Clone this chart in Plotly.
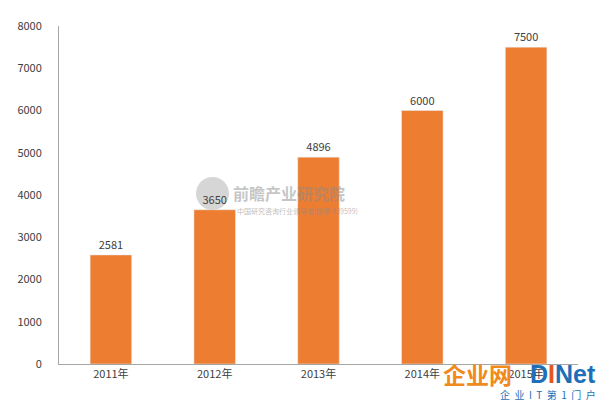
import plotly.graph_objects as go

categories = ["2011年", "2012年", "2013年", "2014年", "2015年"]
values = [2581, 3650, 4896, 6000, 7500]
y_ticks = [0, 1000, 2000, 3000, 4000, 5000, 6000, 7000, 8000]

bar_color = "#ED7D31"
text_color = "#404040"
font_family = "Noto Sans CJK SC, Open Sans, sans-serif"

W, H = 600, 401
L, R, T, B = 59, 22, 26, 37
PW, PH = W - L - R, H - T - B


def px(x):
    return (x - L) / PW


def py(y):
    return (H - B - y) / PH


fig = go.Figure()
fig.add_trace(go.Bar(
    x=categories, y=values, marker_color=bar_color, width=0.4,
    text=[str(v) for v in values], textposition="outside",
    textfont=dict(size=11, color=text_color, family=font_family),
    cliponaxis=False,
))

fig.update_layout(
    width=W, height=H,
    margin=dict(l=L, r=R, t=T, b=B),
    paper_bgcolor="white", plot_bgcolor="white",
    showlegend=False,
    font=dict(family=font_family, size=11, color=text_color),
    xaxis=dict(showline=True, linecolor="#A6A6A6", linewidth=1, ticks="",
               tickfont=dict(size=11, color=text_color), showgrid=False),
    yaxis=dict(range=[0, 8000], tickvals=y_ticks, showline=True, linecolor="#A6A6A6",
               linewidth=1, showgrid=False, zeroline=False, ticks="",
               ticklabelstandoff=14, tickfont=dict(size=11, color=text_color)),
)

# watermark: 前瞻产业研究院
fig.add_shape(type="circle", xref="paper", yref="paper",
              x0=px(196), x1=px(229), y0=py(210), y1=py(177),
              fillcolor="rgba(120,120,120,0.3)", line_width=0, layer="below")
fig.add_annotation(text="<b>前瞻产业研究院</b>", xref="paper", yref="paper", x=px(231), y=py(193),
                   xanchor="left", yanchor="middle", showarrow=False,
                   font=dict(size=16, color="rgba(140,140,140,0.5)", family=font_family))
fig.add_annotation(text="中国研究咨询行业领导者(股票:839599)", xref="paper", yref="paper", x=px(235), y=py(211),
                   xanchor="left", yanchor="middle", showarrow=False,
                   font=dict(size=7, color="rgba(140,140,140,0.6)", family=font_family))

# DINet logo
fig.add_annotation(text="<b>企业网</b>", xref="paper", yref="paper", x=px(441), y=py(374),
                   xanchor="left", yanchor="middle", showarrow=False,
                   font=dict(size=23, color="#F08A1C", family=font_family))
fig.add_annotation(text="<b><span style='color:#1E6FB8'>D</span><span style='color:#E8541A'>I</span><span style='color:#1E6FB8'>Net</span></b>",
                   xref="paper", yref="paper", x=px(598), y=py(374),
                   xanchor="right", yanchor="middle", showarrow=False,
                   font=dict(size=25, family="Liberation Sans, Arial"))
fig.add_annotation(text="企  业  I  T  第  1  门  户", xref="paper", yref="paper", x=px(598), y=py(394),
                   xanchor="right", yanchor="middle", showarrow=False,
                   font=dict(size=10, color="#1E6FB8", family=font_family))

fig.write_html("out.html", config={"displayModeBar": False},
               post_script="document.body.style.margin='0';document.body.style.overflow='hidden';")
